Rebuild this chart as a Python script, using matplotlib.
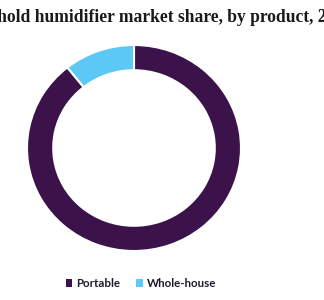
import matplotlib
matplotlib.use("Agg")
import matplotlib.pyplot as plt
from matplotlib.patches import Patch

W, H, DPI = 324, 300, 100

# data
products = ["Portable", "Whole-house"]
shares = [89.3, 10.7]
colors = ["#3b1249", "#5bc8f5"]

title = "U.S. household humidifier market share, by product, 2021 (%)"
hidden_prefix = "U.S. house"
visible_part = "hold humidifier market share, by product, 2"

fig = plt.figure(figsize=(W / DPI, H / DPI), dpi=DPI)
renderer = fig.canvas.get_renderer()

# fit title size so the visible part spans the width like the reference
title_font = dict(family="Liberation Serif", weight="bold")
probe = fig.text(0, 0, visible_part, fontsize=10, **title_font)
w10 = probe.get_window_extent(renderer).width
probe.remove()
fs = 10 * 331 / w10
probe = fig.text(0, 0, hidden_prefix, fontsize=fs, **title_font)
pre_w = probe.get_window_extent(renderer).width
probe.remove()
fig.text((-3 - pre_w) / W, 1 - 17 / H, title, fontsize=fs, color="#1a1a1a",
         ha="left", va="center", **title_font)

# donut (slightly wider than tall, as in the reference)
cx, cy, rx, ry = 134, 148, 107, 103
ax = fig.add_axes([(cx - rx) / W, (H - cy - ry) / H, 2 * rx / W, 2 * ry / H])
ax.pie(shares, colors=colors, startangle=90, counterclock=False, radius=1,
       wedgeprops=dict(width=0.245, edgecolor="white", linewidth=1.5))
ax.set_xlim(-1, 1)
ax.set_ylim(-1, 1)
ax.set_aspect("auto")
ax.axis("off")

handles = [Patch(facecolor=c, edgecolor="none") for c in colors]
fig.legend(handles, products, loc="center", bbox_to_anchor=(141 / W, 1 - 283.5 / H),
           ncol=2, frameon=False, handlelength=0.6, handleheight=0.6,
           handletextpad=0.35, columnspacing=1.35,
           prop=dict(family="Lato", weight="bold", size=8.3), labelcolor="#1c1c2a")

fig.savefig("out.png", dpi=DPI)
